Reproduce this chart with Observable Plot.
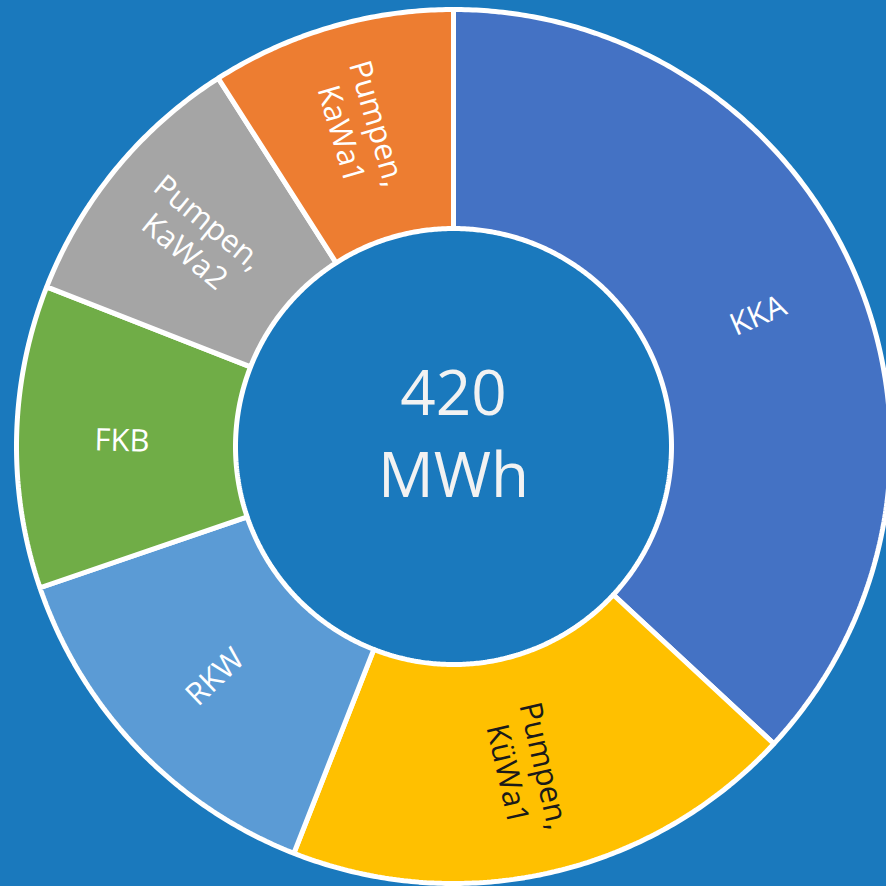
<!DOCTYPE html>
<html>
<head>
<meta charset="utf-8">
<script src="https://cdn.jsdelivr.net/npm/d3@7"></script>
<script src="https://cdn.jsdelivr.net/npm/@observablehq/plot@0.6"></script>
<style>
  html, body { margin: 0; padding: 0; background: #1a79bd; }
  #chart svg { display: block; }
</style>
</head>
<body>
<div id="chart"></div>
<script>
// ---- data ----
const categories = ["KKA", "Pumpen,\nKüWa1", "RKW", "FKB", "Pumpen,\nKaWa2", "Pumpen,\nKaWa1"];
const values = [155, 80, 58, 47, 42, 38];
const sliceColors = ["#4472c4", "#ffc000", "#5b9bd5", "#70ad47", "#a5a5a5", "#ed7d31"];
const labelColors = ["#ffffff", "#1a1a1a", "#ffffff", "#ffffff", "#ffffff", "#ffffff"];
const unit = "MWh";

// ---- layout ----
const W = 886, H = 886;
const cx = 453, cy = 446;       // donut centre in the picture
const rInner = 218, rOuter = 437;

const total = d3.sum(values);
const pie = d3.pie().sort(null).value(d => d.value)(
  categories.map((name, i) => ({name, value: values[i], color: sliceColors[i], label: labelColors[i]}))
);

// polygon outline for each slice
const pts = [];
for (const p of pie) {
  const a0 = p.startAngle, a1 = p.endAngle;
  const n = Math.max(4, Math.ceil((a1 - a0) / (Math.PI / 360)));
  for (let k = 0; k <= n; k++) {
    const a = a0 + (a1 - a0) * k / n;
    pts.push({name: p.data.name, color: p.data.color, x: rOuter * Math.sin(a), y: -rOuter * Math.cos(a)});
  }
  for (let k = n; k >= 0; k--) {
    const a = a0 + (a1 - a0) * k / n;
    pts.push({name: p.data.name, color: p.data.color, x: rInner * Math.sin(a), y: -rInner * Math.cos(a)});
  }
}

// labels
const rLabel = (rInner + rOuter) / 2 + 4;
const labels = pie.map(p => {
  const a = (p.startAngle + p.endAngle) / 2;
  let rot = a * 180 / Math.PI - 90;
  if (rot > 90) rot -= 180;
  return {text: p.data.name, color: p.data.label, x: rLabel * Math.sin(a), y: -rLabel * Math.cos(a), rotate: rot};
});

const chart = Plot.plot({
  width: W,
  height: H,
  margin: 0,
  style: {background: "#1a79bd", overflow: "hidden"},
  x: {domain: [-cx, W - cx], range: [0, W], axis: null},
  y: {domain: [-cy, H - cy], range: [0, H], axis: null},
  color: {type: "identity"},
  marks: [
    Plot.line(pts, {x: "x", y: "y", z: "name", fill: "color", stroke: "white", strokeWidth: 5, curve: "linear-closed", strokeLinejoin: "miter"}),
    Plot.text(labels, {x: "x", y: "y", text: "text", rotate: "rotate", fill: "color", fontSize: 31, lineHeight: 1.2, fontFamily: "Open Sans", textAnchor: "middle", lineAnchor: "middle"}),
    Plot.text([`${total}\n${unit}`], {x: () => 0, y: () => -17, text: d => d, fill: "#f2f2f2", fontSize: 62, lineHeight: 1.32, fontFamily: "Open Sans", textAnchor: "middle", lineAnchor: "middle"})
  ]
});
document.getElementById("chart").appendChild(chart);
</script>
</body>
</html>
